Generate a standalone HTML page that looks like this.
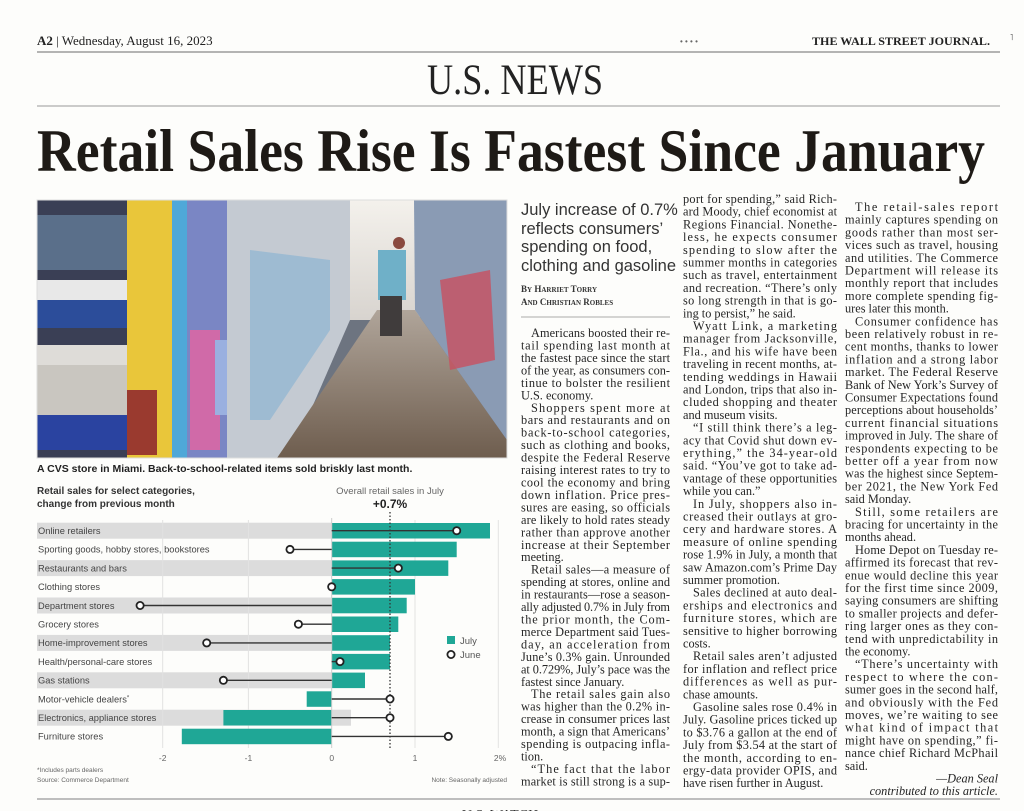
<!DOCTYPE html>
<html><head><meta charset="utf-8"><style>
html,body{margin:0;padding:0;background:#fdfdfb;width:1024px;height:811px;overflow:hidden}
svg{position:absolute;left:0;top:0}
.b{font-family:"Liberation Serif",serif;font-size:12.3px;fill:#252525}
.s{font-family:"Liberation Sans",sans-serif}
</style></head><body>
<svg width="1024" height="811" viewBox="0 0 1024 811">
<defs>
<linearGradient id="floor" x1="0" y1="0" x2="0" y2="1"><stop offset="0" stop-color="#b0a59a"/><stop offset="1" stop-color="#6e5d4e"/></linearGradient>
<linearGradient id="back" x1="0" y1="0" x2="0" y2="1"><stop offset="0" stop-color="#f4f1ec"/><stop offset="1" stop-color="#d8d4cf"/></linearGradient>
</defs>
<text x="37" y="45" font-family="Liberation Serif,serif" font-size="13" fill="#222"><tspan font-weight="bold">A2</tspan> | Wednesday, August 16, 2023</text>
<text x="680" y="44" font-family="Liberation Sans,sans-serif" font-size="8" fill="#666">• • • •</text>
<text x="812" y="45" font-family="Liberation Serif,serif" font-size="12" font-weight="bold" fill="#222" textLength="178" lengthAdjust="spacingAndGlyphs">THE WALL STREET JOURNAL.</text>
<line x1="37" y1="52" x2="1000" y2="52" stroke="#888" stroke-width="1.2"/>
<text x="427" y="94" font-family="Liberation Serif,serif" font-size="43" fill="#222" textLength="176" lengthAdjust="spacingAndGlyphs">U.S. NEWS</text>
<line x1="37" y1="106" x2="1000" y2="106" stroke="#999" stroke-width="1"/>
<text x="37" y="171" font-family="Liberation Serif,serif" font-size="60" font-weight="bold" fill="#1e1a16" textLength="948" lengthAdjust="spacingAndGlyphs">Retail Sales Rise Is Fastest Since January</text>

<rect x="37" y="200" width="470" height="258" fill="#6d7480"/>
<rect x="350" y="200" width="70" height="120" fill="url(#back)"/>
<rect x="37" y="200" width="90" height="258" fill="#3a3f55"/>
<rect x="37" y="300" width="90" height="28" fill="#2c4d9a"/>
<rect x="37" y="280" width="90" height="20" fill="#e8e8e8"/>
<rect x="37" y="345" width="90" height="20" fill="#dedcd8"/>
<rect x="37" y="365" width="90" height="60" fill="#c9c6c0"/>
<rect x="37" y="415" width="90" height="35" fill="#2a43a0"/>
<rect x="37" y="215" width="90" height="55" fill="#5a6f8a"/>
<rect x="127" y="200" width="45" height="258" fill="#e9c63a"/>
<rect x="172" y="200" width="15" height="258" fill="#4fa8d8"/>
<rect x="127" y="390" width="30" height="65" fill="#9a3a2f"/>
<rect x="187" y="200" width="40" height="258" fill="#7a86c4"/>
<rect x="190" y="330" width="30" height="120" fill="#d06aa8"/>
<rect x="215" y="340" width="25" height="75" fill="#9ab0e0"/>
<polygon points="227,200 350,200 350,320 290,458 227,458" fill="#c4cad2"/>
<polygon points="250,250 330,260 330,330 270,420 250,420" fill="#8fb5d2" opacity=".7"/>
<polygon points="377,310 415,310 507,440 507,458 277,458" fill="url(#floor)"/>
<polygon points="414,200 507,200 507,440 415,310" fill="#8a9bb4"/>
<polygon points="440,280 490,270 495,360 450,370" fill="#c85060" opacity=".8"/>
<rect x="378" y="250" width="28" height="50" fill="#6fb0c8"/>
<rect x="380" y="296" width="22" height="40" fill="#403c3c"/>
<circle cx="399" cy="243" r="6" fill="#8a4a40"/>
<rect x="37" y="200" width="470" height="258" fill="none" stroke="#ddd"/>
<text x="37" y="472" font-family="Liberation Sans,sans-serif" font-size="10.5" font-weight="bold" fill="#222">A CVS store in Miami. Back-to-school-related items sold briskly last month.</text>

<g class="s">
<text x="37" y="494" font-size="10" font-weight="bold" fill="#333">Retail sales for select categories,</text>
<text x="37" y="507" font-size="10" font-weight="bold" fill="#333">change from previous month</text>
<text x="390" y="494" font-size="9.5" fill="#666" text-anchor="middle">Overall retail sales in July</text>
<text x="390" y="508" font-size="12" font-weight="bold" fill="#222" text-anchor="middle">+0.7%</text>
<g fill="#dcdcdc">
<rect x="37" y="522.7" width="295" height="16"/>
<rect x="37" y="560.1" width="295" height="16"/>
<rect x="37" y="597.5" width="295" height="16"/>
<rect x="37" y="634.9" width="295" height="16"/>
<rect x="37" y="672.3" width="295" height="16"/>
<rect x="37" y="709.7" width="314" height="16"/>
</g>
<g stroke="#e2e2e2" stroke-width="1">
<line x1="162.7" y1="520" x2="162.7" y2="748"/><line x1="248.4" y1="520" x2="248.4" y2="748"/>
<line x1="415" y1="520" x2="415" y2="748"/><line x1="498.3" y1="520" x2="498.3" y2="748"/>
</g>
<g fill="#1fa796">
<rect x="331.7" y="523" width="158.3" height="15.5"/>
<rect x="331.7" y="541.7" width="125" height="15.5"/>
<rect x="331.7" y="560.4" width="116.6" height="15.5"/>
<rect x="331.7" y="579.1" width="83.3" height="15.5"/>
<rect x="331.7" y="597.8" width="75" height="15.5"/>
<rect x="331.7" y="616.5" width="66.6" height="15.5"/>
<rect x="331.7" y="635.2" width="58.3" height="15.5"/>
<rect x="331.7" y="653.9" width="58.3" height="15.5"/>
<rect x="331.7" y="672.6" width="33.3" height="15.5"/>
<rect x="306.7" y="691.3" width="25" height="15.5"/>
<rect x="223.4" y="710" width="108.3" height="15.5"/>
<rect x="181.8" y="728.7" width="149.9" height="15.5"/>
</g>
<line x1="331.7" y1="518" x2="331.7" y2="748" stroke="#ccc"/>
<line x1="390" y1="512" x2="390" y2="750" stroke="#333" stroke-width="1.3" stroke-dasharray="1.5,2"/>
<g stroke="#333" stroke-width="1.4">
<line x1="331.7" y1="530.7" x2="456.7" y2="530.7"/>
<line x1="331.7" y1="549.4" x2="290" y2="549.4"/>
<line x1="331.7" y1="568.1" x2="398.3" y2="568.1"/>
<line x1="331.7" y1="605.5" x2="140.1" y2="605.5"/>
<line x1="331.7" y1="624.2" x2="298.4" y2="624.2"/>
<line x1="331.7" y1="642.9" x2="206.7" y2="642.9"/>
<line x1="331.7" y1="661.6" x2="340" y2="661.6"/>
<line x1="331.7" y1="680.3" x2="223.4" y2="680.3"/>
<line x1="331.7" y1="699" x2="390" y2="699"/>
<line x1="331.7" y1="717.7" x2="390" y2="717.7"/>
<line x1="331.7" y1="736.4" x2="448.3" y2="736.4"/>
</g>
<g fill="#fff" stroke="#222" stroke-width="1.8">
<circle cx="456.7" cy="530.7" r="3.6"/><circle cx="290" cy="549.4" r="3.6"/>
<circle cx="398.3" cy="568.1" r="3.6"/><circle cx="331.7" cy="586.8" r="3.6"/>
<circle cx="140.1" cy="605.5" r="3.6"/><circle cx="298.4" cy="624.2" r="3.6"/>
<circle cx="206.7" cy="642.9" r="3.6"/><circle cx="340" cy="661.6" r="3.6"/>
<circle cx="223.4" cy="680.3" r="3.6"/><circle cx="390" cy="699" r="3.6"/>
<circle cx="390" cy="717.7" r="3.6"/><circle cx="448.3" cy="736.4" r="3.6"/>
</g>
<g font-size="9.3" fill="#444">
<text x="38" y="534">Online retailers</text>
<text x="38" y="552.7">Sporting goods, hobby stores, bookstores</text>
<text x="38" y="571.4">Restaurants and bars</text>
<text x="38" y="590.1">Clothing stores</text>
<text x="38" y="608.8">Department stores</text>
<text x="38" y="627.5">Grocery stores</text>
<text x="38" y="646.2">Home-improvement stores</text>
<text x="38" y="664.9">Health/personal-care stores</text>
<text x="38" y="683.6">Gas stations</text>
<text x="38" y="702.3">Motor-vehicle dealers<tspan font-size="6" dy="-3">*</tspan></text>
<text x="38" y="721">Electronics, appliance stores</text>
<text x="38" y="739.7">Furniture stores</text>
</g>
<rect x="447" y="636" width="8" height="8" fill="#1fa796"/>
<text x="460" y="644" font-size="9.5" fill="#555">July</text>
<circle cx="451" cy="654.5" r="3.6" fill="#fff" stroke="#222" stroke-width="1.8"/>
<text x="460" y="658" font-size="9.5" fill="#555">June</text>
<g font-size="8.5" fill="#666" text-anchor="middle">
<text x="162.7" y="761">-2</text><text x="248.4" y="761">-1</text><text x="331.7" y="761">0</text><text x="415" y="761">1</text><text x="500" y="761">2%</text>
</g>
<text x="37" y="772" font-size="6.5" fill="#666">*Includes parts dealers</text>
<text x="37" y="782" font-size="6.5" fill="#666">Source: Commerce Department</text>
<text x="507" y="782" font-size="6.5" fill="#666" text-anchor="end">Note: Seasonally adjusted</text>
</g>

<g font-family="Liberation Sans,sans-serif" font-size="16.5" fill="#333">
<text x="521" y="215">July increase of 0.7%</text>
<text x="521" y="234">reflects consumers’</text>
<text x="521" y="252">spending on food,</text>
<text x="521" y="271">clothing and gasoline</text>
</g>
<g font-family="Liberation Serif,serif" font-size="9" font-weight="bold" fill="#333">
<text x="521" y="292">B<tspan font-size="7">Y</tspan> H<tspan font-size="7">ARRIET</tspan> T<tspan font-size="7">ORRY</tspan></text>
<text x="521" y="305">A<tspan font-size="7">ND</tspan> C<tspan font-size="7">HRISTIAN</tspan> R<tspan font-size="7">OBLES</tspan></text>
</g>
<line x1="521" y1="317" x2="670" y2="317" stroke="#aaa"/>
<g class="b">
<text x="531" y="337" textLength="139" lengthAdjust="spacing">Americans boosted their re-</text>
<text x="521" y="349.5" textLength="149" lengthAdjust="spacing">tail spending last month at</text>
<text x="521" y="362" textLength="149" lengthAdjust="spacing">the fastest pace since the start</text>
<text x="521" y="374.4" textLength="149" lengthAdjust="spacing">of the year, as consumers con-</text>
<text x="521" y="386.8" textLength="149" lengthAdjust="spacing">tinue to bolster the resilient</text>
<text x="521" y="399.3">U.S. economy.</text>
<text x="531" y="411.8" textLength="139" lengthAdjust="spacing">Shoppers spent more at</text>
<text x="521" y="424.2" textLength="149" lengthAdjust="spacing">bars and restaurants and on</text>
<text x="521" y="436.7" textLength="149" lengthAdjust="spacing">back-to-school categories,</text>
<text x="521" y="449.1" textLength="149" lengthAdjust="spacing">such as clothing and books,</text>
<text x="521" y="461.6" textLength="149" lengthAdjust="spacing">despite the Federal Reserve</text>
<text x="521" y="474" textLength="149" lengthAdjust="spacing">raising interest rates to try to</text>
<text x="521" y="486.5" textLength="149" lengthAdjust="spacing">cool the economy and bring</text>
<text x="521" y="499" textLength="149" lengthAdjust="spacing">down inflation. Price pres-</text>
<text x="521" y="511.4" textLength="149" lengthAdjust="spacing">sures are easing, so officials</text>
<text x="521" y="523.9" textLength="149" lengthAdjust="spacing">are likely to hold rates steady</text>
<text x="521" y="536.3" textLength="149" lengthAdjust="spacing">rather than approve another</text>
<text x="521" y="548.8" textLength="149" lengthAdjust="spacing">increase at their September</text>
<text x="521" y="561.2">meeting.</text>
<text x="531" y="573.7" textLength="139" lengthAdjust="spacing">Retail sales—a measure of</text>
<text x="521" y="586.1" textLength="149" lengthAdjust="spacing">spending at stores, online and</text>
<text x="521" y="598.6" textLength="149" lengthAdjust="spacing">in restaurants—rose a season-</text>
<text x="521" y="611" textLength="149" lengthAdjust="spacing">ally adjusted 0.7% in July from</text>
<text x="521" y="623.5" textLength="149" lengthAdjust="spacing">the prior month, the Com-</text>
<text x="521" y="636" textLength="149" lengthAdjust="spacing">merce Department said Tues-</text>
<text x="521" y="648.4" textLength="149" lengthAdjust="spacing">day, an acceleration from</text>
<text x="521" y="660.9" textLength="149" lengthAdjust="spacing">June’s 0.3% gain. Unrounded</text>
<text x="521" y="673.3" textLength="149" lengthAdjust="spacing">at 0.729%, July’s pace was the</text>
<text x="521" y="685.8">fastest since January.</text>
<text x="531" y="698.2" textLength="139" lengthAdjust="spacing">The retail sales gain also</text>
<text x="521" y="710.7" textLength="149" lengthAdjust="spacing">was higher than the 0.2% in-</text>
<text x="521" y="723.1" textLength="149" lengthAdjust="spacing">crease in consumer prices last</text>
<text x="521" y="735.6" textLength="149" lengthAdjust="spacing">month, a sign that Americans’</text>
<text x="521" y="748" textLength="149" lengthAdjust="spacing">spending is outpacing infla-</text>
<text x="521" y="760.5">tion.</text>
<text x="531" y="773" textLength="139" lengthAdjust="spacing">“The fact that the labor</text>
<text x="521" y="785.4" textLength="149" lengthAdjust="spacing">market is still strong is a sup-</text>
</g>

<g class="b">
<text x="683" y="203" textLength="154" lengthAdjust="spacing">port for spending,” said Rich-</text>
<text x="683" y="215.7" textLength="154" lengthAdjust="spacing">ard Moody, chief economist at</text>
<text x="683" y="228.4" textLength="154" lengthAdjust="spacing">Regions Financial. Nonethe-</text>
<text x="683" y="241.1" textLength="154" lengthAdjust="spacing">less, he expects consumer</text>
<text x="683" y="253.8" textLength="154" lengthAdjust="spacing">spending to slow after the</text>
<text x="683" y="266.5" textLength="154" lengthAdjust="spacing">summer months in categories</text>
<text x="683" y="279.2" textLength="154" lengthAdjust="spacing">such as travel, entertainment</text>
<text x="683" y="291.9" textLength="154" lengthAdjust="spacing">and recreation. “There’s only</text>
<text x="683" y="304.6" textLength="154" lengthAdjust="spacing">so long strength in that is go-</text>
<text x="683" y="317.3">ing to persist,” he said.</text>
<text x="693" y="330" textLength="144" lengthAdjust="spacing">Wyatt Link, a marketing</text>
<text x="683" y="342.7" textLength="154" lengthAdjust="spacing">manager from Jacksonville,</text>
<text x="683" y="355.4" textLength="154" lengthAdjust="spacing">Fla., and his wife have been</text>
<text x="683" y="368.1" textLength="154" lengthAdjust="spacing">traveling in recent months, at-</text>
<text x="683" y="380.8" textLength="154" lengthAdjust="spacing">tending weddings in Hawaii</text>
<text x="683" y="393.5" textLength="154" lengthAdjust="spacing">and London, trips that also in-</text>
<text x="683" y="406.2" textLength="154" lengthAdjust="spacing">cluded shopping and theater</text>
<text x="683" y="418.9">and museum visits.</text>
<text x="693" y="431.6" textLength="144" lengthAdjust="spacing">“I still think there’s a leg-</text>
<text x="683" y="444.3" textLength="154" lengthAdjust="spacing">acy that Covid shut down ev-</text>
<text x="683" y="457" textLength="154" lengthAdjust="spacing">erything,” the 34-year-old</text>
<text x="683" y="469.7" textLength="154" lengthAdjust="spacing">said. “You’ve got to take ad-</text>
<text x="683" y="482.4" textLength="154" lengthAdjust="spacing">vantage of these opportunities</text>
<text x="683" y="495.1">while you can.”</text>
<text x="693" y="507.8" textLength="144" lengthAdjust="spacing">In July, shoppers also in-</text>
<text x="683" y="520.5" textLength="154" lengthAdjust="spacing">creased their outlays at gro-</text>
<text x="683" y="533.2" textLength="154" lengthAdjust="spacing">cery and hardware stores. A</text>
<text x="683" y="545.9" textLength="154" lengthAdjust="spacing">measure of online spending</text>
<text x="683" y="558.6" textLength="154" lengthAdjust="spacing">rose 1.9% in July, a month that</text>
<text x="683" y="571.3" textLength="154" lengthAdjust="spacing">saw Amazon.com’s Prime Day</text>
<text x="683" y="584">summer promotion.</text>
<text x="693" y="596.7" textLength="144" lengthAdjust="spacing">Sales declined at auto deal-</text>
<text x="683" y="609.4" textLength="154" lengthAdjust="spacing">erships and electronics and</text>
<text x="683" y="622.1" textLength="154" lengthAdjust="spacing">furniture stores, which are</text>
<text x="683" y="634.8" textLength="154" lengthAdjust="spacing">sensitive to higher borrowing</text>
<text x="683" y="647.5">costs.</text>
<text x="693" y="660.2" textLength="144" lengthAdjust="spacing">Retail sales aren’t adjusted</text>
<text x="683" y="672.9" textLength="154" lengthAdjust="spacing">for inflation and reflect price</text>
<text x="683" y="685.6" textLength="154" lengthAdjust="spacing">differences as well as pur-</text>
<text x="683" y="698.3">chase amounts.</text>
<text x="693" y="711" textLength="144" lengthAdjust="spacing">Gasoline sales rose 0.4% in</text>
<text x="683" y="723.7" textLength="154" lengthAdjust="spacing">July. Gasoline prices ticked up</text>
<text x="683" y="736.4" textLength="154" lengthAdjust="spacing">to $3.76 a gallon at the end of</text>
<text x="683" y="749.1" textLength="154" lengthAdjust="spacing">July from $3.54 at the start of</text>
<text x="683" y="761.8" textLength="154" lengthAdjust="spacing">the month, according to en-</text>
<text x="683" y="774.5" textLength="154" lengthAdjust="spacing">ergy-data provider OPIS, and</text>
<text x="683" y="787.2">have risen further in August.</text>
</g>

<g class="b">
<text x="855" y="211" textLength="143" lengthAdjust="spacing">The retail-sales report</text>
<text x="845" y="223.7" textLength="153" lengthAdjust="spacing">mainly captures spending on</text>
<text x="845" y="236.4" textLength="153" lengthAdjust="spacing">goods rather than most ser-</text>
<text x="845" y="249.1" textLength="153" lengthAdjust="spacing">vices such as travel, housing</text>
<text x="845" y="261.8" textLength="153" lengthAdjust="spacing">and utilities. The Commerce</text>
<text x="845" y="274.5" textLength="153" lengthAdjust="spacing">Department will release its</text>
<text x="845" y="287.2" textLength="153" lengthAdjust="spacing">monthly report that includes</text>
<text x="845" y="299.9" textLength="153" lengthAdjust="spacing">more complete spending fig-</text>
<text x="845" y="312.6">ures later this month.</text>
<text x="855" y="325.3" textLength="143" lengthAdjust="spacing">Consumer confidence has</text>
<text x="845" y="338" textLength="153" lengthAdjust="spacing">been relatively robust in re-</text>
<text x="845" y="350.7" textLength="153" lengthAdjust="spacing">cent months, thanks to lower</text>
<text x="845" y="363.4" textLength="153" lengthAdjust="spacing">inflation and a strong labor</text>
<text x="845" y="376.1" textLength="153" lengthAdjust="spacing">market. The Federal Reserve</text>
<text x="845" y="388.8" textLength="153" lengthAdjust="spacing">Bank of New York’s Survey of</text>
<text x="845" y="401.5" textLength="153" lengthAdjust="spacing">Consumer Expectations found</text>
<text x="845" y="414.2" textLength="153" lengthAdjust="spacing">perceptions about households’</text>
<text x="845" y="426.9" textLength="153" lengthAdjust="spacing">current financial situations</text>
<text x="845" y="439.6" textLength="153" lengthAdjust="spacing">improved in July. The share of</text>
<text x="845" y="452.3" textLength="153" lengthAdjust="spacing">respondents expecting to be</text>
<text x="845" y="465" textLength="153" lengthAdjust="spacing">better off a year from now</text>
<text x="845" y="477.7" textLength="153" lengthAdjust="spacing">was the highest since Septem-</text>
<text x="845" y="490.4" textLength="153" lengthAdjust="spacing">ber 2021, the New York Fed</text>
<text x="845" y="503.1">said Monday.</text>
<text x="855" y="515.8" textLength="143" lengthAdjust="spacing">Still, some retailers are</text>
<text x="845" y="528.5" textLength="153" lengthAdjust="spacing">bracing for uncertainty in the</text>
<text x="845" y="541.2">months ahead.</text>
<text x="855" y="553.9" textLength="143" lengthAdjust="spacing">Home Depot on Tuesday re-</text>
<text x="845" y="566.6" textLength="153" lengthAdjust="spacing">affirmed its forecast that rev-</text>
<text x="845" y="579.3" textLength="153" lengthAdjust="spacing">enue would decline this year</text>
<text x="845" y="592" textLength="153" lengthAdjust="spacing">for the first time since 2009,</text>
<text x="845" y="604.7" textLength="153" lengthAdjust="spacing">saying consumers are shifting</text>
<text x="845" y="617.4" textLength="153" lengthAdjust="spacing">to smaller projects and defer-</text>
<text x="845" y="630.1" textLength="153" lengthAdjust="spacing">ring larger ones as they con-</text>
<text x="845" y="642.8" textLength="153" lengthAdjust="spacing">tend with unpredictability in</text>
<text x="845" y="655.5">the economy.</text>
<text x="855" y="668.2" textLength="143" lengthAdjust="spacing">“There’s uncertainty with</text>
<text x="845" y="680.9" textLength="153" lengthAdjust="spacing">respect to where the con-</text>
<text x="845" y="693.6" textLength="153" lengthAdjust="spacing">sumer goes in the second half,</text>
<text x="845" y="706.3" textLength="153" lengthAdjust="spacing">and obviously with the Fed</text>
<text x="845" y="719" textLength="153" lengthAdjust="spacing">moves, we’re waiting to see</text>
<text x="845" y="731.7" textLength="153" lengthAdjust="spacing">what kind of impact that</text>
<text x="845" y="744.4" textLength="153" lengthAdjust="spacing">might have on spending,” fi-</text>
<text x="845" y="757.1" textLength="153" lengthAdjust="spacing">nance chief Richard McPhail</text>
<text x="845" y="769.8">said.</text>
<text x="998" y="782.5" text-anchor="end" font-style="italic">—Dean Seal</text>
<text x="998" y="795.2" text-anchor="end" font-style="italic">contributed to this article.</text>
</g>

<line x1="37" y1="799" x2="1000" y2="799" stroke="#999" stroke-width="1.2"/>
<text x="500" y="819" font-family="Liberation Serif,serif" font-size="14" fill="#333" text-anchor="middle">U.S. WATCH</text>
<text x="1010" y="40" font-size="8" fill="#555">˥</text>
</svg>
</body></html>
